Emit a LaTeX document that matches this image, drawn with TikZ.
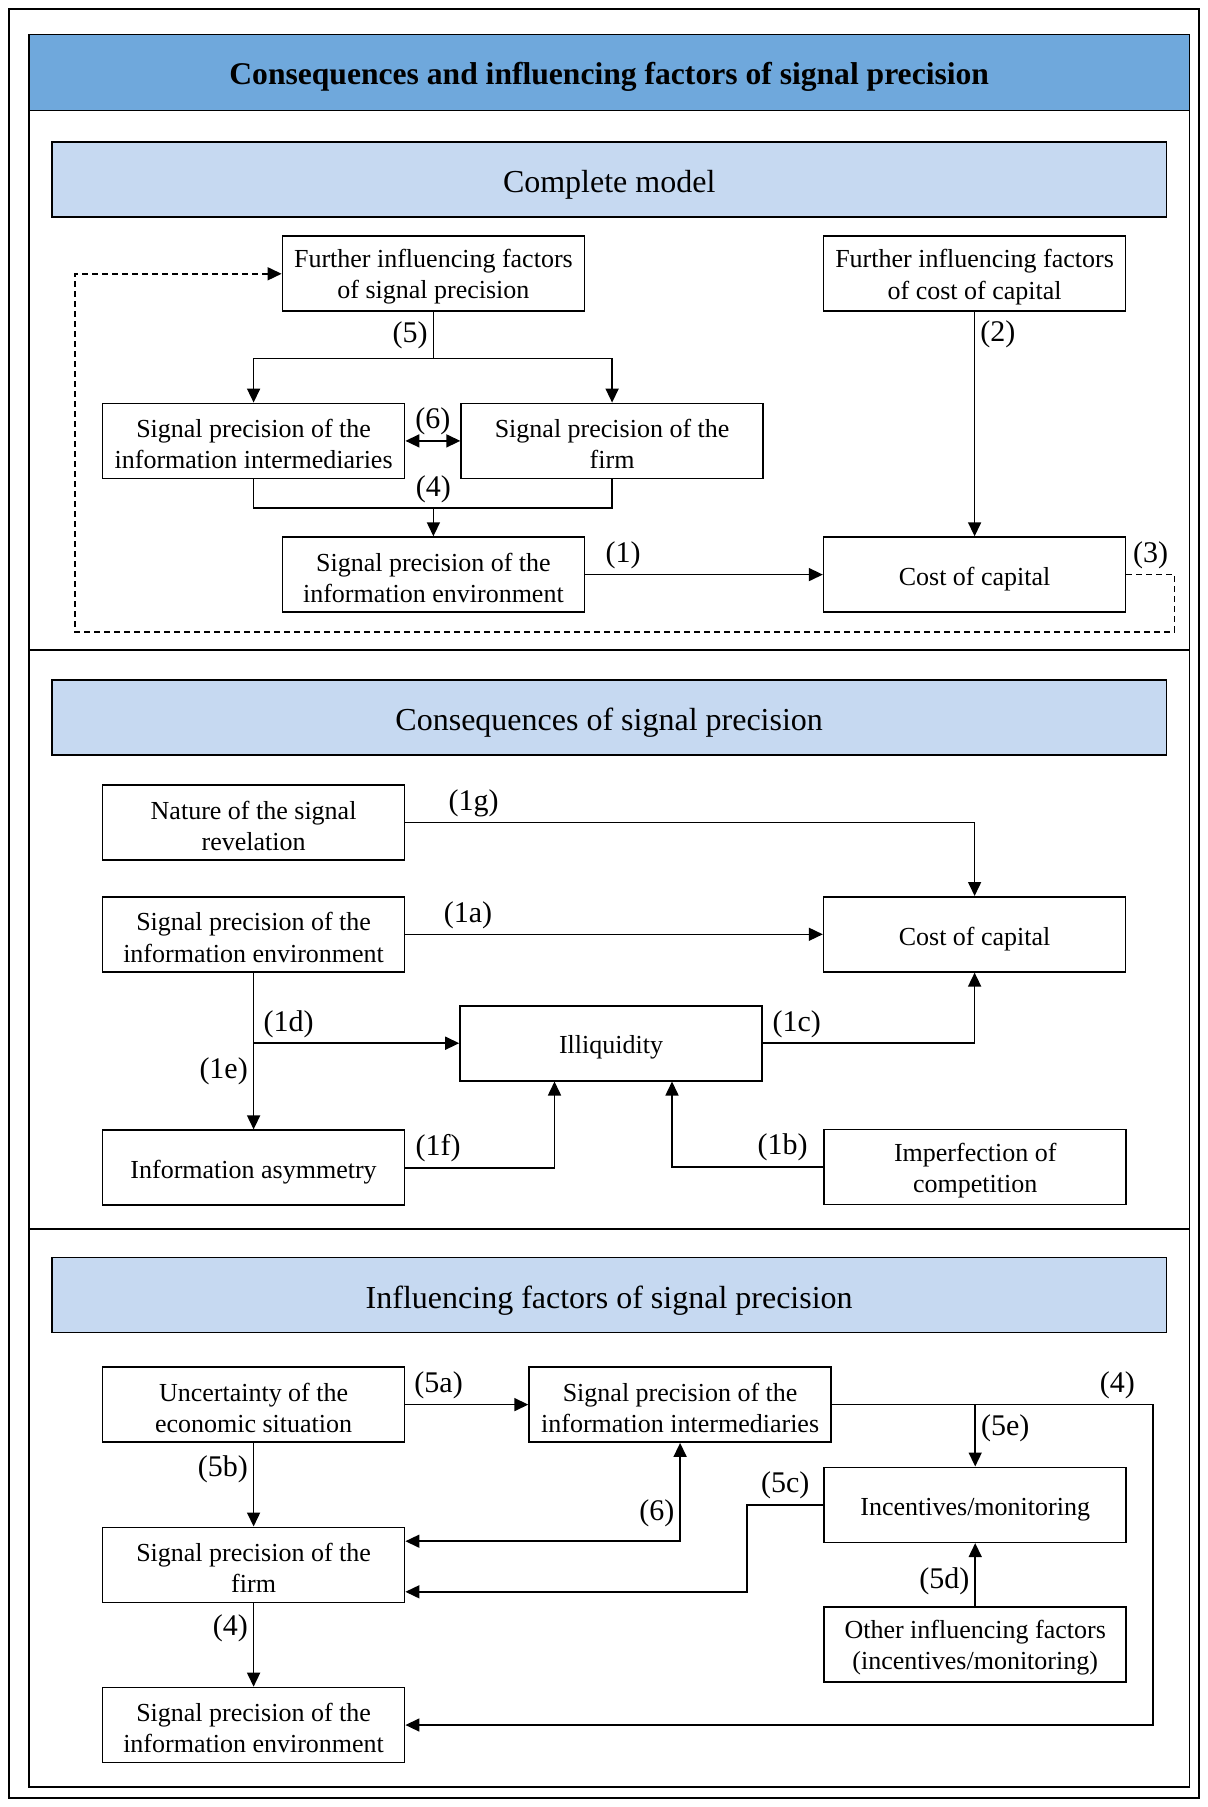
\documentclass[tikz,border=0pt]{standalone}
\usepackage{fontspec}
\setmainfont{Liberation Serif}
\usetikzlibrary{arrows.meta,positioning}
\definecolor{titleblue}{HTML}{6FA8DC}
\definecolor{headblue}{HTML}{C6D9F1}

\begin{document}
\begin{tikzpicture}[x=0.5pt,y=-0.5pt,>={Triangle[length=7pt,width=6.5pt]},line width=0.8pt,
  every node/.style={font=\fontsize{13}{15.6}\selectfont},
  box/.style={draw,align=center,minimum width=151pt,minimum height=37.5pt,inner sep=2pt,
    execute at begin node={\rule{0pt}{#1}}},
  box/.default=13.5pt,
  head/.style={draw,fill=headblue,minimum width=557.3pt,minimum height=37.5pt,font=\fontsize{16}{19}\selectfont,
    execute at begin node={\rule{0pt}{16.5pt}}},
  lbl/.style={inner sep=2.5pt,font=\fontsize{15}{18}\selectfont}]
\useasboundingbox (0,0) rectangle (1208,1807);
\draw (9,9) rectangle (1199,1798);
\draw (28.8,34.6) rectangle (1189.6,1786.7);
\node[draw,fill=titleblue,minimum width=580.4pt,minimum height=38pt,font=\bfseries\fontsize{15.8}{19}\selectfont,
  execute at begin node={\rule{0pt}{15.5pt}}] (title) at (609.2,72.6) {Consequences and influencing factors of signal precision};
\draw (28.8,650.1) -- (1189.6,650.1);
\draw (28.8,1228.8) -- (1189.6,1228.8);

\node[head] (hmodel) at (609.2,179.3) {Complete model};
\node[box=28pt] (fisp) at (433.4,273.8) {Further influencing factors\\of signal precision};
\node[box=28pt] (ficc) at (974.6,273.8) {Further influencing factors\\of cost of capital};
\node[box=28pt] (spint) at (253.6,440.9) {Signal precision of the\\information intermediaries};
\node[box=28pt] (spfirm) at (612.1,440.9) {Signal precision of the\\firm};
\node[box=28pt] (spenv) at (433.4,574.6) {Signal precision of the\\information environment};
\node[box] (coc) at (974.6,574.6) {Cost of capital};
\coordinate (b5) at (433.4,358.5);
\coordinate (m4) at (433.4,508.3);
\coordinate (d1) at (1174.6,574.6);
\coordinate (d2) at (74.9,631.7);
\draw (fisp) -- node[lbl,left] (l5) {(5)} (b5);
\draw[->] (b5) -| (spint);
\draw[->] (b5) -| (spfirm);
\draw[<->] (spint) -- node[lbl,above] (l6) {(6)} (spfirm);
\draw (spint) |- (m4) -| (spfirm);
\draw[->] (m4) node[lbl,above] (l4) {(4)} -- (spenv);
\draw[->] (spenv) -- node[lbl,above,pos=0.16] (l1) {(1)} (coc);
\draw[->] (ficc) -- node[lbl,right,pos=0.1] (l2) {(2)} (coc);
\draw[densely dashed,->] (coc) -- node[lbl,above] (l3) {(3)} (d1) |- (d2) |- (fisp);

\node[head] (hcons) at (609.2,717.6) {Consequences of signal precision};
\node[box=28pt] (nature) at (253.6,822.4) {Nature of the signal\\revelation};
\node[box=28pt] (spenv2) at (253.6,934.3) {Signal precision of the\\information environment};
\node[box] (coc2) at (974.6,934.3) {Cost of capital};
\node[box] (illiq) at (611,1043.2) {Illiquidity};
\node[box] (asym) at (253.6,1167.7) {Information asymmetry};
\node[box=28pt] (imperf) at (975.2,1167) {Imperfection of\\competition};
\coordinate (j1d) at (spenv2 |- illiq);
\draw[->] (nature) -| node[lbl,above,pos=0.06] (l1g) {(1g)} (coc2);
\draw[->] (spenv2) -- node[lbl,above,pos=0.15] (l1a) {(1a)} (coc2);
\draw[->] (spenv2) -- node[lbl,left,pos=0.63] (l1e) {(1e)} (asym);
\draw[->] (j1d) -- node[lbl,above,pos=0.17] (l1d) {(1d)} (illiq);
\draw[->] (illiq) -| node[lbl,above,pos=0.08] (l1c) {(1c)} (coc2);
\draw[->] (asym) -| node[lbl,above,pos=0.11] (l1f) {(1f)} ([xshift=-28.25pt]illiq.south);
\draw[->] (imperf) -| node[lbl,above,pos=0.135] (l1b) {(1b)} ([xshift=30.5pt]illiq.south);

\node[head] (hinf) at (609.2,1295.1) {Influencing factors of signal precision};
\node[box=28pt] (uncert) at (253.6,1404.6) {Uncertainty of the\\economic situation};
\node[box=28pt] (spint3) at (680.1,1404.6) {Signal precision of the\\information intermediaries};
\node[box] (incent) at (975.2,1504.8) {Incentives/monitoring};
\node[box=28pt] (spfirm3) at (253.6,1564.8) {Signal precision of the\\firm};
\node[box=28pt] (other) at (975.2,1644.3) {Other influencing factors\\(incentives/monitoring)};
\node[box=28pt] (spenv3) at (253.6,1725) {Signal precision of the\\information environment};
\coordinate (c4) at (1152.7,1404.6);
\coordinate (c5c) at (747,1504.8);
\draw[->] (uncert) -- node[lbl,above,pos=0.27] (l5a) {(5a)} (spint3);
\draw[->] (uncert) -- node[lbl,left,pos=0.32] (l5b) {(5b)} (spfirm3);
\draw[->] (spfirm3) -- node[lbl,left,pos=0.3] (l4b) {(4)} (spenv3);
\draw[->] (spint3) -- node[lbl,above,pos=0.89] (l4a) {(4)} (c4) |- (spenv3);
\draw[->] (spint3 -| incent) -- node[lbl,right,pos=0.39] (l5e) {(5e)} (incent);
\draw[<->] (spint3) |- node[lbl,left,pos=0.36] (l6b) {(6)} ([yshift=11.8pt]spfirm3.east);
\draw[->] (incent) -- node[lbl,above] (l5c) {(5c)} (c5c) |- ([yshift=-13.5pt]spfirm3.east);
\draw[->] (other) -- node[lbl,left,pos=0.39] (l5d) {(5d)} (incent);
\end{tikzpicture}
\end{document}
